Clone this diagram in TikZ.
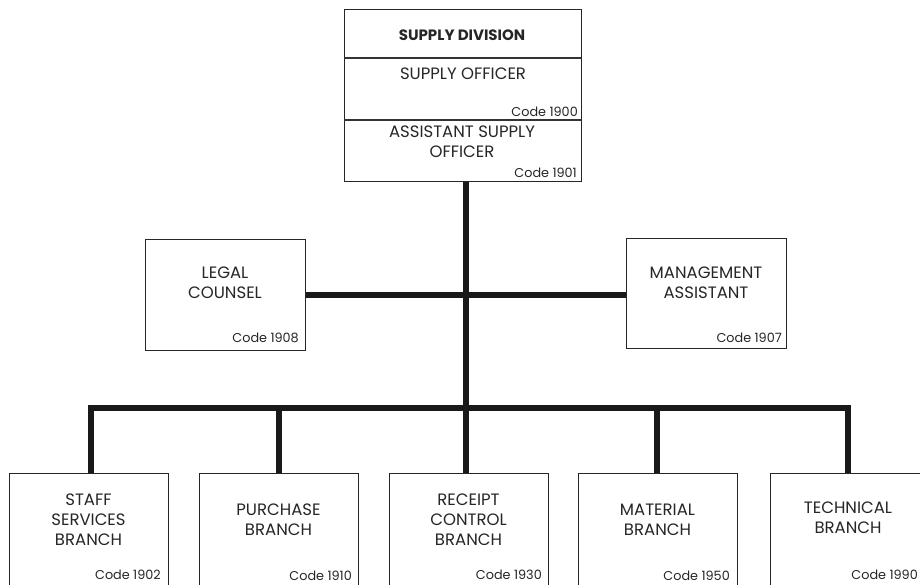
\documentclass[tikz,border=0pt]{standalone}
\usepackage{fontspec}
\setmainfont{Poppins}
\begin{document}
\begin{tikzpicture}[x=1pt,y=-1pt,
  box/.style={draw=black!85,line width=1.3pt,rectangle,inner sep=0pt,anchor=north west},
  conn/.style={line width=5.5pt,draw=black!90},
  lbl/.style={align=center,inner sep=0pt,text=black!85,font=\fontsize{16.5}{20}\selectfont},
  code/.style={anchor=east,inner sep=0pt,text=black!85,font=\fontsize{12.8}{14}\selectfont}]
\clip (0,0) rectangle (920,585);
\fill[white] (0,0) rectangle (920,585);
% top box
\node[box,minimum width=237pt,minimum height=172pt] (top) at (344,9) {};
\draw[line width=1.1pt,black!80] (top.north west) ++(0,49) -- ++(237,0);
\draw[line width=1.1pt,black!80] (top.north west) ++(0,111) -- ++(237,0);
\node[lbl,font=\fontsize{15}{20}\selectfont\bfseries] (tdiv) at (462,35) {SUPPLY DIVISION};
\node[lbl] (tso) at (463,74) {SUPPLY OFFICER};
\node[code] (c1900) at (578,112) {Code 1900};
\node[lbl] (taso) at (462,142) {ASSISTANT SUPPLY\\OFFICER};
\node[code] (c1901) at (577,173) {Code 1901};
% staff boxes
\node[box,minimum width=160pt,minimum height=111pt] (legal) at (145,239) {};
\node[lbl] (tlegal) at (225,283) {LEGAL\\COUNSEL};
\node[code] (c1908) at (299,338) {Code 1908};
\node[box,minimum width=160pt,minimum height=110pt] (mgmt) at (626,238) {};
\node[lbl] (tmgmt) at (706,283) {MANAGEMENT\\ASSISTANT};
\node[code] (c1907) at (782,338) {Code 1907};
% branches
\node[box,minimum width=159pt,minimum height=140pt] (staff) at (9,473) {};
\node[lbl] (tstaff) at (88.5,520) {STAFF\\SERVICES\\BRANCH};
\node[code] (c1902) at (161,575) {Code 1902};
\node[box,minimum width=159pt,minimum height=140pt] (purch) at (199,473) {};
\node[lbl] (tpurch) at (278.5,520) {PURCHASE\\BRANCH};
\node[code] (c1910) at (352,576) {Code 1910};
\node[box,minimum width=159pt,minimum height=140pt] (rcpt) at (389,473) {};
\node[lbl] (trcpt) at (468.5,520) {RECEIPT\\CONTROL\\BRANCH};
\node[code] (c1930) at (542,575) {Code 1930};
\node[box,minimum width=159pt,minimum height=140pt] (matl) at (578,473) {};
\node[lbl] (tmatl) at (657.5,520) {MATERIAL\\BRANCH};
\node[code] (c1950) at (730,576) {Code 1950};
\node[box,minimum width=159pt,minimum height=140pt] (tech) at (770,473) {};
\node[lbl] (ttech) at (848,518) {TECHNICAL\\BRANCH};
\node[code] (c1990) at (918,575) {Code 1990};
% connectors
\coordinate (trunk) at (466,408);
\draw[conn] (top.south -| trunk) -- (trunk);
\draw[conn] (legal.east) -- (legal.east -| mgmt.west);
\draw[conn] (staff.north -| 91,0) -- (91,408) -- (848,408) -- (tech.north -| 848,0);
\draw[conn] (purch.north -| 279,0) -- (279,408);
\draw[conn] (rcpt.north -| trunk) -- (trunk);
\draw[conn] (matl.north -| 657,0) -- (657,408);
\end{tikzpicture}
\end{document}
